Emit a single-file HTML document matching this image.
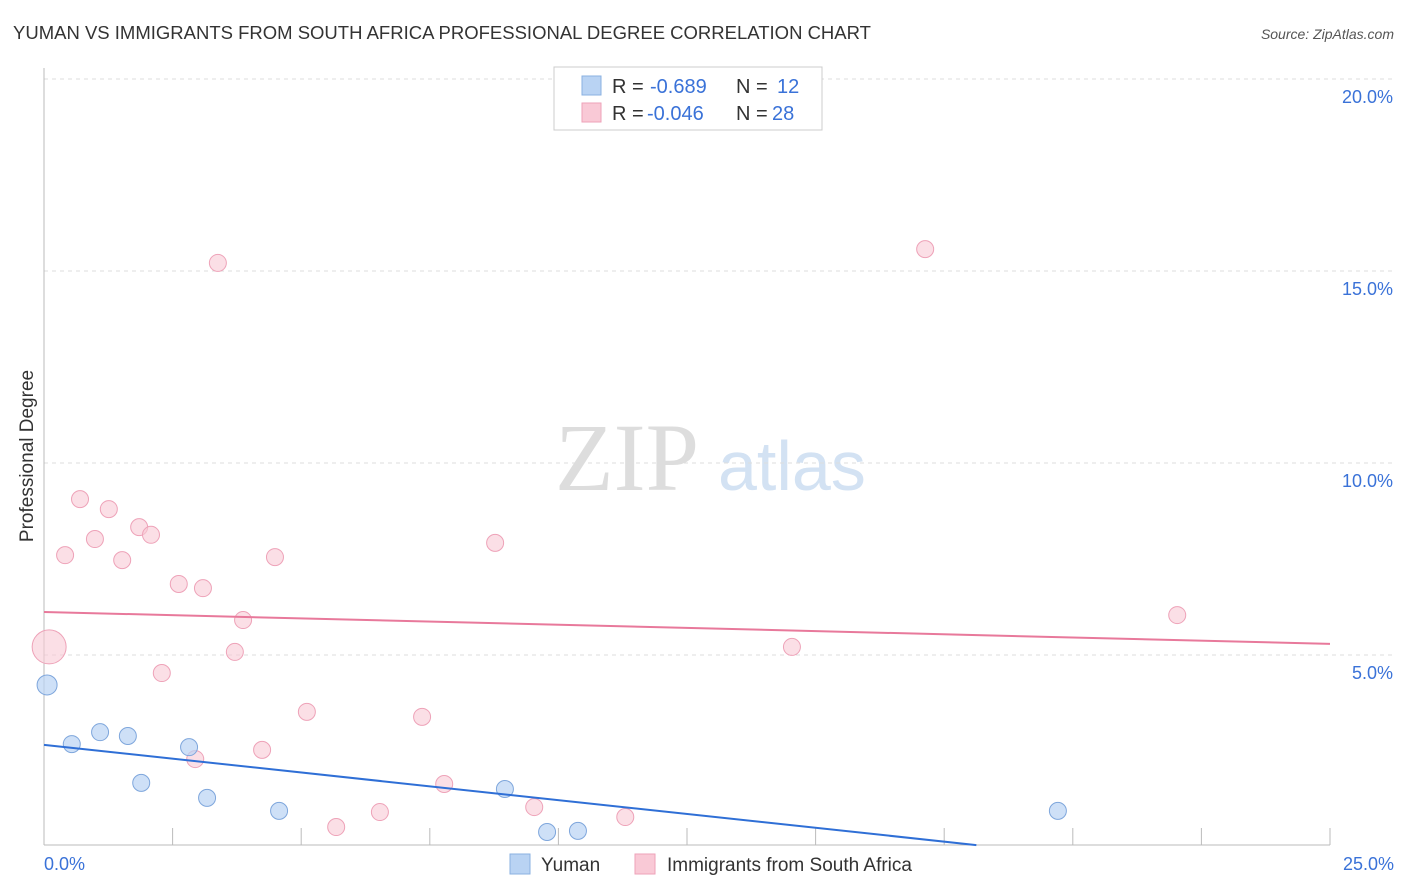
<!DOCTYPE html>
<html><head><meta charset="utf-8"><style>
body{margin:0;background:#fff;font-family:"Liberation Sans",sans-serif;}
</style></head><body>
<svg id="chart" width="1406" height="892" style="display:block">
<text x="13" y="39" font-size="18.5" fill="#333">YUMAN VS IMMIGRANTS FROM SOUTH AFRICA PROFESSIONAL DEGREE CORRELATION CHART</text>
<text x="1394" y="39" font-size="14" fill="#555" font-style="italic" text-anchor="end">Source: ZipAtlas.com</text>
<text x="33" y="456" font-size="19" fill="#333" text-anchor="middle" transform="rotate(-90 33 456)">Professional Degree</text>
<text x="555" y="490" font-size="96" fill="#ddd" font-family="Liberation Serif,serif">ZIP</text>
<text x="718" y="490" font-size="70" fill="#d3e2f3">atlas</text>
<g id="grid"></g><g id="marks"></g>
<g>
<rect x="554" y="67" width="268" height="63" fill="#fff" stroke="#ccc"/>
<rect x="582" y="76" width="19" height="19" fill="#b9d3f3" stroke="#8ab0e0"/>
<text y="93" font-size="20" fill="#333"><tspan x="612">R =</tspan><tspan x="650" fill="#3a72d8">-0.689</tspan><tspan x="736">N =</tspan><tspan x="777" fill="#3a72d8">12</tspan></text>
<rect x="582" y="103" width="19" height="19" fill="#f9c9d6" stroke="#eea2b8"/>
<text y="120" font-size="20" fill="#333"><tspan x="612">R =</tspan><tspan x="647" fill="#3a72d8">-0.046</tspan><tspan x="736">N =</tspan><tspan x="772" fill="#3a72d8">28</tspan></text>
</g>
<g>
<rect x="510" y="854" width="20" height="20" fill="#b9d3f3" stroke="#8ab0e0"/>
<text x="541" y="871" font-size="19" fill="#333">Yuman</text>
<rect x="635" y="854" width="20" height="20" fill="#f9c9d6" stroke="#eea2b8"/>
<text x="667" y="871" font-size="19" fill="#333">Immigrants from South Africa</text>
</g>
</svg>
<script>
const yTicks=[5,10,15,20];
const yTickLabels=["5.0%","10.0%","15.0%","20.0%"];
const xLabels=["0.0%","25.0%"];
const blueX=[0.06,0.54,1.09,1.63,1.89,2.82,3.17,4.57,8.96,9.78,10.38,19.71];
const blueY=[4.22,2.68,2.99,2.89,1.67,2.60,1.28,0.94,1.51,0.39,0.42,0.94];
const pinkX=[0.10,0.41,0.70,0.99,1.26,1.52,1.85,2.08,2.29,2.62,2.94,3.09,3.38,3.71,3.87,4.24,4.49,5.11,5.68,6.53,7.35,7.78,8.77,9.53,11.30,14.54,17.13,22.03];
const pinkY=[5.21,7.60,9.06,8.02,8.80,7.47,8.33,8.13,4.53,6.85,2.29,6.74,15.21,5.08,5.91,2.53,7.55,3.52,0.52,0.91,3.39,1.64,7.92,1.04,0.78,5.21,15.57,6.04];
const blueLine=[2.66,-0.94];
const pinkLine=[6.12,5.29];
const X=v=>44+v/25*1286, Y=v=>847-v*38.4;
const NS="http://www.w3.org/2000/svg";
function mk(t,a,p){const e=document.createElementNS(NS,t);for(const k in a)e.setAttribute(k,a[k]);p.appendChild(e);return e;}
const g=document.getElementById('grid'),m=document.getElementById('marks');
yTicks.forEach((t,i)=>{
 const l=mk('line',{x1:44,x2:1392,y1:Y(t),y2:Y(t),stroke:'#ddd','stroke-dasharray':'4,4'},g);
 
 
 const tx=mk('text',{x:1393,y:Y(t)+24,'font-size':18,fill:'#3a72d8','text-anchor':'end'},g);
 tx.textContent=yTickLabels[i];
 
 
});
const ax=mk('line',{x1:44,x2:44,y1:68,y2:845,stroke:'#bbb'},g);


const bx=mk('line',{x1:44,x2:1330,y1:845,y2:845,stroke:'#bbb'},g);


for(let i=1;i<=10;i++){
 const t=mk('line',{x1:X(i*2.5),x2:X(i*2.5),y1:828,y2:845,stroke:'#bbb'},g);
 
 
}
[[0,'start',44],[1,'end',1394]].forEach(([i,a,x])=>{
 const t=mk('text',{x:x,y:870,'font-size':18,fill:'#3a72d8','text-anchor':a},g);
 t.textContent=xLabels[i];
 
 
});
pinkX.forEach((x,i)=>{
 const c=mk('circle',{cx:X(x),cy:Y(pinkY[i]),r:i==0?17:8.5,fill:'rgba(249,201,214,0.6)',stroke:'#eea2b8','stroke-width':1},m);
 
 
});
blueX.forEach((x,i)=>{
 const c=mk('circle',{cx:X(x),cy:Y(blueY[i]),r:i==0?10:8.5,fill:'rgba(185,211,243,0.7)',stroke:'#7ea6dc','stroke-width':1},m);
 
 
});
const pl=mk('line',{x1:X(0),y1:Y(pinkLine[0]),x2:X(25),y2:Y(pinkLine[1]),stroke:'#e8799b','stroke-width':2},m);


const yb=v=>blueLine[0]+(blueLine[1]-blueLine[0])*v/25;
const xend=Math.min(25,Math.max(0,(blueLine[0]-0.05)/(blueLine[0]-blueLine[1])*25));
const bl=mk('line',{x1:X(0),y1:Y(blueLine[0]),x2:X(xend),y2:Y(yb(xend)),stroke:'#2f6fd6','stroke-width':2},m);


</script>
</body></html>
